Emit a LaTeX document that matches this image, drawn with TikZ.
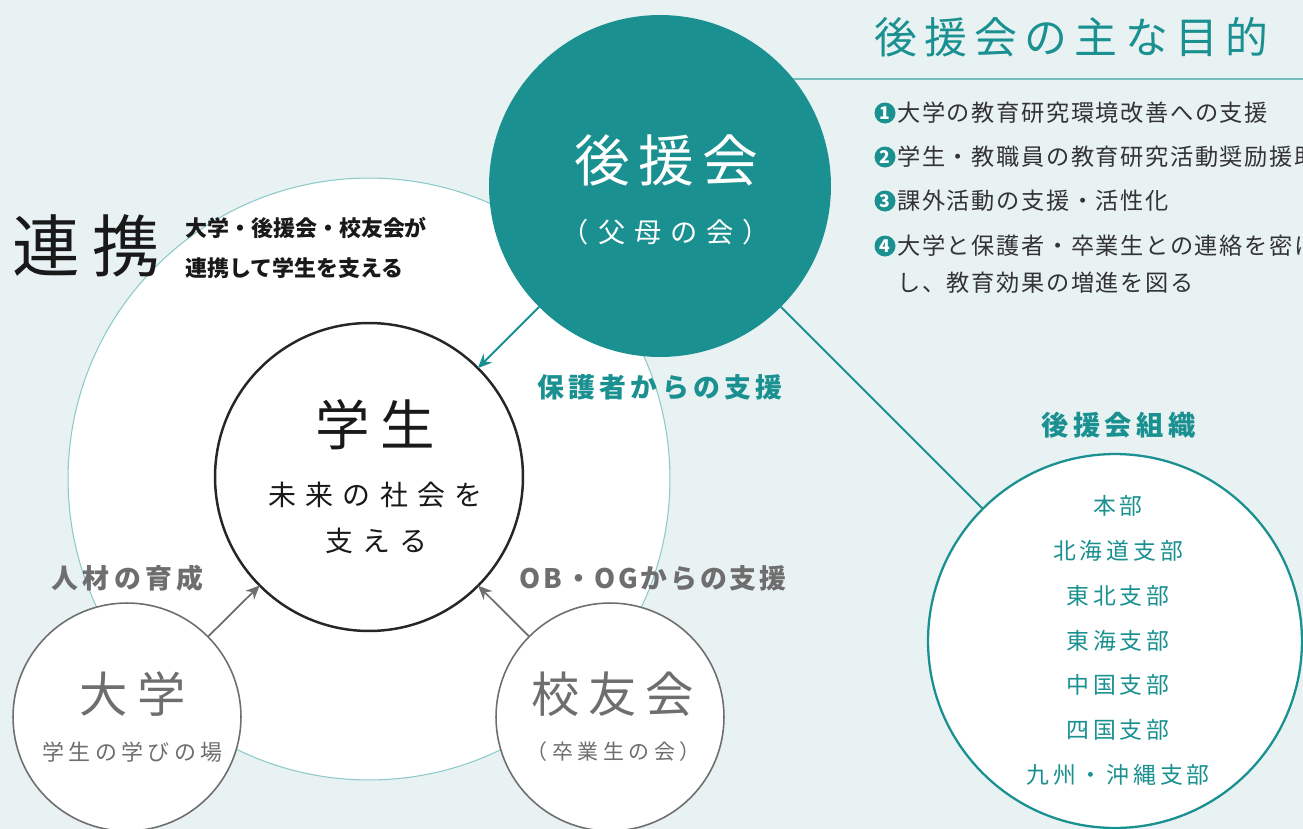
\documentclass[tikz,border=0pt]{standalone}
\usepackage{fontspec}
\setmainfont{Noto Sans CJK JP}
\usepackage{tikz}
\usetikzlibrary{arrows.meta}
\definecolor{kteal}{HTML}{1A9090}
\definecolor{bgmist}{HTML}{E8F2F3}
\definecolor{ringteal}{HTML}{8CCACA}
\definecolor{ashgray}{HTML}{6E6E6E}
\definecolor{inkdark}{HTML}{333333}
\newcommand{\ls}[1]{\addfontfeatures{LetterSpace=#1}}
\newcommand{\fsz}[1]{\fontsize{#1}{#1}\selectfont}

\begin{document}
\begin{tikzpicture}[>={Stealth[length=8pt,width=7pt]}, x=0.02cm, y=-0.02cm,
    ring/.style={circle, inner sep=0pt, outer sep=0pt},
    boldlbl/.style={inner sep=0pt, font=\fsz{15.3pt}\bfseries\ls{16}},
    item/.style={inner sep=0pt, anchor=west, text=inkdark, font=\fsz{13.2pt}\ls{7}},
    numdot/.style={circle, fill=kteal, inner sep=0pt, minimum size=0.42cm, text=white, font=\fsz{10pt}\bfseries},
    branch/.style={inner sep=0pt, text=kteal, font=\fsz{13pt}\ls{17}}]
        % background and page size
        \fill [bgmist] (0,0) rectangle (1303,829);
        \useasboundingbox (0,0) rectangle (1303,829);
        \clip (0,0) rectangle (1303,829);

        % circles
        \node[ring, fill=white, draw=ringteal, line width=0.6pt, minimum size=12.04cm] (renkei) at (369,479) {};
        \coordinate (ruleL) at (700,79);
        \coordinate (ruleR) at (1303,79);
        \draw [ringteal!80!kteal, line width=1.1pt] (ruleL) -- (ruleR);
        \node[ring, fill=kteal, minimum size=6.84cm] (koenkai) at (660,186) {};
        \node[ring, fill=white, draw=black!85, line width=1.4pt, minimum size=6.16cm] (gakusei) at (369,477) {};
        \node[ring, fill=white, draw=ashgray, line width=0.9pt, minimum size=4.56cm] (daigaku) at (127,717) {};
        \node[ring, fill=white, draw=ashgray, line width=0.9pt, minimum size=4.56cm] (kouyuu) at (610,717) {};
        \node[ring, fill=white, draw=kteal, line width=1.3pt, minimum size=7.48cm] (soshiki) at (1115,641) {};

        % connectors
        \draw [kteal, line width=1.1pt] (koenkai) -- (soshiki);
        \draw [->, kteal, line width=1.1pt] (koenkai) -- (gakusei);
        \draw [->, ashgray, line width=1pt] (daigaku) -- (gakusei);
        \draw [->, ashgray, line width=1pt] (kouyuu) -- (gakusei);

        % title and list
        \node[inner sep=0pt, anchor=west, text=kteal, font=\fsz{24.4pt}\ls{17}] (title) at (874,37) {後援会の主な目的};
        \foreach \t/\yy [count=\i] in {大学の教育研究環境改善への支援/113,
                                      学生・教職員の教育研究活動奨励援助/157,
                                      課外活動の支援・活性化/201,
                                      大学と保護者・卒業生との連絡を密に/246}{
            \node[numdot] (num\i) at (885,\yy) {\i};
            \node[item] (aim\i) at (897,\yy) {\t};
        }
        \node[item] (aim5) at (897,283) {し、教育効果の増進を図る};

        % renkei
        \node[inner sep=0pt, anchor=west, text=black!90, font=\fsz{38.5pt}\ls{18}] (renkeiword) at (12,246) {連携};
        \node[inner sep=0pt, anchor=west, text=black!90, font=\fsz{12.5pt}\bfseries] (cap1) at (185,228) {大学・後援会・校友会が};
        \node[inner sep=0pt, anchor=west, text=black!90, font=\fsz{12.5pt}\bfseries] (cap2) at (185,268) {連携して学生を支える};

        % texts in circles
        \node[inner sep=0pt, text=white, font=\fsz{31.7pt}\ls{15}] (koenkainame) at (666,160) {後援会};
        \node[inner sep=0pt, text=white, font=\fsz{15.5pt}\ls{33}] (koenkaisub) at (666,232) {（父母の会）};
        \node[inner sep=0pt, text=black!90, font=\fsz{31pt}\ls{20}] (gakuseiname) at (375,425) {学生};
        \node[inner sep=0pt, text=black!90, font=\fsz{15.9pt}\ls{33}] (gakuseisub1) at (375.5,495) {未来の社会を};
        \node[inner sep=0pt, text=black!90, font=\fsz{15.9pt}\ls{33}] (gakuseisub2) at (376.5,541) {支える};
        \node[inner sep=0pt, text=ashgray, font=\fsz{27.5pt}\ls{20}] (daigakuname) at (132.5,694) {大学};
        \node[inner sep=0pt, text=ashgray, font=\fsz{12.5pt}\ls{20}] (daigakusub) at (132.5,752) {学生の学びの場};
        \node[inner sep=0pt, text=ashgray, font=\fsz{27.5pt}\ls{18}] (kouyuuname) at (612.5,694) {校友会};
        \node[inner sep=0pt, text=ashgray, font=\fsz{11.9pt}\ls{22}] (kouyuusub) at (613.5,752) {（卒業生の会）};

        % support labels
        \node[boldlbl, text=kteal] (hogosha) at (660,387) {保護者からの支援};
        \node[boldlbl, text=ashgray] (jinzai) at (127.5,578) {人材の育成};
        \node[boldlbl, text=ashgray, font=\fsz{15.3pt}\bfseries\ls{10}] (obog) at (653,578) {OB・OGからの支援};

        % organisation
        \node[boldlbl, text=kteal, font=\fsz{15.5pt}\bfseries\ls{16}] (soshikiname) at (1118.5,425) {後援会組織};
        \foreach \name [count=\i] in {本部, 北海道支部, 東北支部, 東海支部, 中国支部, 四国支部, 九州・沖縄支部}{
            \node[branch] (br\i) at (1118, 461.2+44.8*\i) {\name};
        }
    \end{tikzpicture}
\end{document}
